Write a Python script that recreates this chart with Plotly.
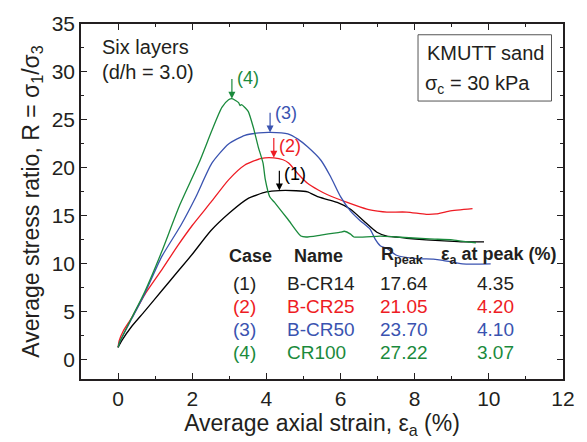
import plotly.graph_objects as go

# Average axial strain (%) and stress ratio R for each test case
strain_cr14 = [0, 0.1, 0.37, 0.72, 1.2, 1.61, 2.0, 2.5, 3.0, 3.5, 4.0, 4.35, 4.8, 5.11, 5.38,
               5.65, 5.91, 6.27, 6.62, 6.98, 7.25, 7.5, 7.78, 8.31, 8.8, 9.3, 9.87]
ratio_cr14 = [1.3, 2.0, 3.5, 5.07, 7.3, 9.2, 11.0, 13.45, 15.3, 16.8, 17.5, 17.64, 17.62, 17.5, 17.0,
              16.7, 16.4, 15.7, 14.5, 13.3, 12.9, 12.8, 12.67, 12.5, 12.4, 12.3, 12.3]

strain_cr25 = [0, 0.03, 0.14, 0.37, 0.72, 1.2, 1.61, 2.0, 2.5, 2.98, 3.42, 3.87, 4.2, 4.45, 4.6,
               4.85, 5.11, 5.4, 5.65, 6.18, 6.71, 7.0, 7.25, 7.78, 8.31, 8.58, 8.93, 9.56]
ratio_cr25 = [1.3, 2.0, 3.0, 4.4, 6.8, 9.5, 11.9, 14.0, 16.4, 18.76, 20.3, 21.0, 21.05, 20.85, 20.5,
              19.4, 18.4, 17.7, 17.2, 16.4, 15.7, 15.5, 15.4, 15.4, 15.16, 15.2, 15.5, 15.75]

strain_cr50 = [0, 0.05, 0.37, 0.72, 1.17, 1.69, 2.1, 2.53, 2.98, 3.42, 3.8, 4.1, 4.58, 4.85, 5.11,
               5.47, 5.73, 6.0, 6.27, 6.53, 6.8, 6.93, 7.07, 7.25, 7.51, 8.05, 8.5, 8.76, 9.29, 10.05]
ratio_cr50 = [1.3, 1.9, 4.3, 6.9, 10.7, 14.0, 17.0, 20.5, 22.5, 23.4, 23.65, 23.70, 23.55, 23.0, 22.2,
              20.8, 19.1, 17.0, 15.5, 14.5, 13.6, 12.6, 11.9, 11.6, 10.9, 10.55, 10.5, 10.37, 10.0, 10.0]

strain_cr100 = [0, 0.05, 0.37, 0.72, 1.17, 1.65, 2.18, 2.53, 2.8, 2.98, 3.07, 3.18, 3.25, 3.29, 3.33,
                3.42, 3.51, 3.65, 3.78, 3.91, 3.97, 4.09, 4.22, 4.58, 4.93, 5.07, 5.47, 6.0, 6.1,
                6.27, 6.36, 7.07, 7.5, 8.4, 9.02, 9.47, 9.65]
ratio_cr100 = [1.3, 1.9, 4.4, 7.1, 11.2, 16.0, 20.5, 23.9, 26.3, 27.1, 27.22, 27.0, 26.8, 26.5, 26.6,
               26.3, 25.9, 24.2, 22.2, 20.5, 18.8, 17.0, 16.4, 14.65, 12.9, 12.8, 13.0, 13.3, 13.4,
               13.1, 12.8, 12.9, 12.8, 12.6, 12.5, 12.26, 12.2]

# Summary table
case_labels = ["(1)", "(2)", "(3)", "(4)"]
case_names = ["B-CR14", "B-CR25", "B-CR50", "CR100"]
r_peak = [17.64, 21.05, 23.70, 27.22]
strain_at_peak = [4.35, 4.20, 4.10, 3.07]
colors = ["#000000", "#ee1c24", "#3a53b0", "#1a8a3c"]

curves = [(strain_cr14, ratio_cr14), (strain_cr25, ratio_cr25),
          (strain_cr50, ratio_cr50), (strain_cr100, ratio_cr100)]

TXT = "#231f20"
FONT = "Liberation Sans, Arial, Helvetica, sans-serif"
Y_PER_PX = 37 / 360.0          # y-axis units per pixel of plot height
SHAFT = 20 * Y_PER_PX          # arrow shaft length above each peak

fig = go.Figure()
for (xs, ys), name, col in zip(curves, case_names, colors):
    fig.add_trace(go.Scatter(x=xs, y=ys, mode="lines", name=name,
                             line=dict(color=col, width=1.3, shape="spline", smoothing=0.6),
                             showlegend=False))

# peak markers: a short shaft with a downward arrowhead touching the peak
for xp, yp, col in zip(strain_at_peak, r_peak, colors):
    fig.add_trace(go.Scatter(x=[xp, xp], y=[yp + SHAFT, yp + 0.3], mode="lines",
                             line=dict(color=col, width=1.2), showlegend=False,
                             hoverinfo="skip"))
    fig.add_trace(go.Scatter(x=[xp], y=[yp], mode="markers",
                             marker=dict(symbol="arrow-down", size=7, color=col,
                                         line=dict(width=0)),
                             showlegend=False, hoverinfo="skip"))

annotations = []
label_yshift = [17, 12, 19, 21]
for lab, xp, yp, col, ys in zip(case_labels, strain_at_peak, r_peak, colors, label_yshift):
    annotations.append(dict(x=xp, y=yp, xref="x", yref="y", text=lab, showarrow=False,
                            xanchor="left", yanchor="middle", xshift=3, yshift=ys,
                            font=dict(size=18, color=col, family=FONT)))

# table header
header_y = 10.85
hdr_font = dict(size=18, color=TXT, family=FONT)
annotations += [
    dict(x=3.56, y=header_y, text="<b>Case</b>", xanchor="center"),
    dict(x=5.4, y=header_y, text="<b>Name</b>", xanchor="center"),
    dict(x=7.03, y=header_y, text="<b>R<sub>peak</sub></b>", xanchor="left"),
    dict(x=8.66, y=header_y, text="<b>ε<sub>a</sub> at peak (%)</b>", xanchor="left"),
]
for a in annotations[-4:]:
    a.update(xref="x", yref="y", showarrow=False, yanchor="middle", font=hdr_font)

row_y = [7.98, 5.58, 3.18, 0.79]
for lab, nm, rp, ep, col, yy in zip(case_labels, case_names, r_peak, strain_at_peak, colors, row_y):
    c = TXT if col == "#000000" else col
    f = dict(size=19, color=c, family=FONT)
    annotations += [
        dict(x=3.42, y=yy, text=lab, xanchor="center", font=f),
        dict(x=4.5, y=yy, text=nm, xanchor="left", font=f),
        dict(x=7.0, y=yy, text=f"{rp:.2f}", xanchor="left", font=f),
        dict(x=10.18, y=yy, text=f"{ep:.2f}", xanchor="center", font=f),
    ]
    for a in annotations[-4:]:
        a.update(xref="x", yref="y", showarrow=False, yanchor="middle")

# specimen notes
note_font = dict(size=20, color=TXT, family=FONT)
annotations += [
    dict(x=-0.48, y=32.6, text="Six layers", xanchor="left"),
    dict(x=-0.48, y=29.95, text="(d/h = 3.0)", xanchor="left"),
    dict(x=8.29, y=31.93, text="KMUTT sand", xanchor="left"),
    dict(x=8.22, y=28.7, text="σ<sub>c</sub> = 30 kPa", xanchor="left"),
]
for a in annotations[-4:]:
    a.update(xref="x", yref="y", showarrow=False, yanchor="middle", font=note_font)

fig.add_shape(type="rect", xref="x", yref="y", x0=8.09, x1=11.69, y0=26.97, y1=33.88,
              line=dict(color="#555555", width=1), fillcolor="rgba(0,0,0,0)")

axis_common = dict(showline=True, linecolor="#231f20", linewidth=1.5, mirror="ticks",
                   ticks="inside", ticklen=6, tickwidth=1.2, tickcolor="#231f20",
                   showgrid=False, zeroline=False,
                   tickfont=dict(size=21, color=TXT, family=FONT))

fig.update_layout(
    width=587, height=442,
    margin=dict(l=81, r=19, t=22, b=60),
    paper_bgcolor="white", plot_bgcolor="white",
    xaxis=dict(range=[-1, 12], dtick=2, tick0=0,
               minor=dict(dtick=1, ticks="inside", ticklen=3.5, tickcolor="#231f20"),
               title=dict(text="Average axial strain, ε<sub>a</sub> (%)",
                          font=dict(size=23, color=TXT, family=FONT), standoff=4),
               **axis_common),
    yaxis=dict(range=[-2, 35], dtick=5, tick0=0,
               minor=dict(dtick=2.5, ticks="inside", ticklen=3.5, tickcolor="#231f20"),
               title=dict(text="Average stress ratio, R = σ<sub>1</sub>/σ<sub>3</sub>",
                          font=dict(size=23, color=TXT, family=FONT), standoff=6),
               **axis_common),
    annotations=annotations,
)

fig.write_html("out.html")
